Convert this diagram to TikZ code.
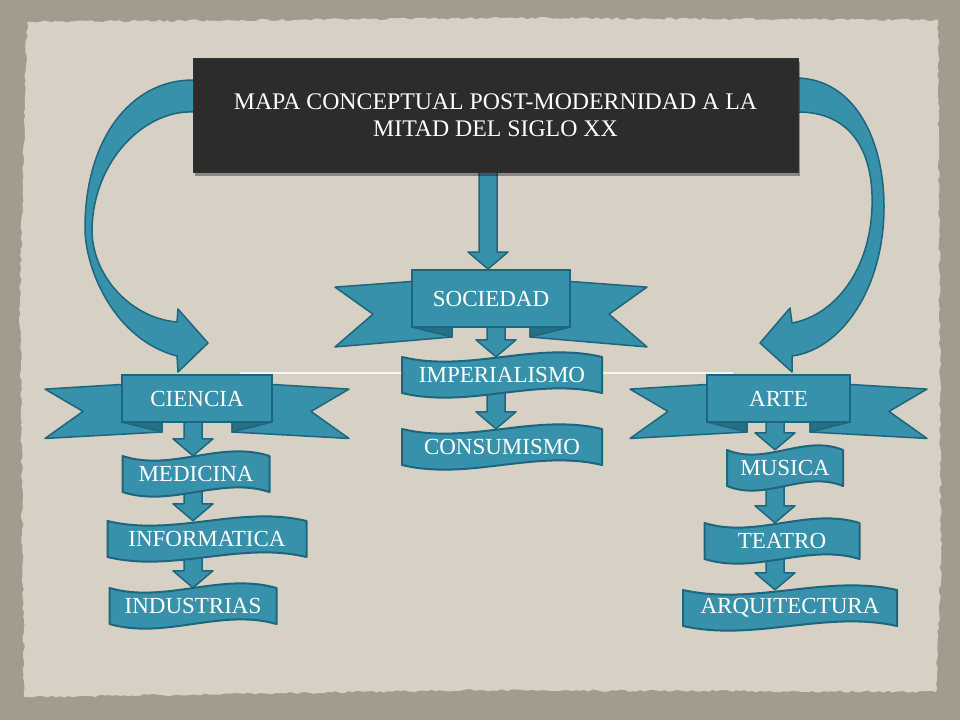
\documentclass[tikz,border=0pt]{standalone}
\usepackage{fontspec}
\setmainfont{Liberation Serif}
\usetikzlibrary{calc,shadows,decorations.pathmorphing}

\definecolor{ribbon}{RGB}{56,145,171}
\definecolor{ribbonedge}{RGB}{30,102,124}
\definecolor{ribbondark}{RGB}{36,112,135}
\definecolor{paperbg}{RGB}{215,208,196}
\definecolor{boardbg}{RGB}{162,155,142}
\definecolor{slate}{RGB}{44,44,44}

\pgfdeclarelayer{background}
\pgfdeclarelayer{behind}
\pgfsetlayers{background,behind,main}

% banner with two swallow tails: name, x, y, half width, half height, text
\newcommand\banner[6]{%
  \begin{scope}[shift={(#2,#3)}]
    \foreach \s in {1,-1} {
      \filldraw[ribbontail, xscale=\s] (-#4+20,-0.65*#5) -- (-#4-77,-0.4*#5) -- (-#4-39,0.55*#5)
        -- (-#4-77,1.7*#5) -- (-#4+40,#5+10) -- (-#4+40,0) -- cycle;
      \filldraw[ribbonfold, xscale=\s] (-#4,#5) -- (-#4+40,#5+10) -- (-#4+40,#5) -- cycle;
    }
  \end{scope}
  \node[bannerbox, minimum width=2*#4, minimum height=2*#5] (#1) at (#2,#3) {#6};
}

% wavy box: name, x, y, width, text
\newcommand\wavebox[5]{%
  \filldraw[wavebg, shift={(#2,#3)}] (-#4/2,-18) .. controls (-#4/6,-2) and (#4/6,-34) .. (#4/2,-18)
    -- (#4/2,18) .. controls (#4/6,2) and (-#4/6,34) .. (-#4/2,18) -- cycle;
  \node[wavetext, minimum width=#4] (#1) at (#2,#3) {#5};
}

% block arrow straight down: from, to, column
\newcommand\blockarrow[3]{%
  \filldraw[bigarrow] ($(#1.south -| #3)+(-9,-2)$) -- ($(#2.north -| #3)+(-9,-17)$)
    -- ($(#2.north -| #3)+(-20,-17)$) -- (#2.north -| #3) -- ($(#2.north -| #3)+(20,-17)$)
    -- ($(#2.north -| #3)+(9,-17)$) -- ($(#1.south -| #3)+(9,-2)$) -- cycle;
}

\begin{document}
\begin{tikzpicture}
    [x=1pt,y=-1pt,
     ribbontail/.style={fill=ribbon, draw=ribbonedge, line width=1.5pt, line join=round},
     ribbonfold/.style={fill=ribbondark, draw=ribbonedge, line width=1.5pt, line join=round},
     bannerbox/.style={fill=ribbon, draw=ribbonedge, line width=2pt, text=white, inner sep=0pt,
       font=\fontsize{23}{27}\selectfont},
     wavebg/.style={fill=ribbon, draw=ribbonedge, line width=2pt, line join=round},
     wavetext/.style={text=white, inner sep=0pt, minimum height=36pt, font=\fontsize{23}{27}\selectfont},
     bigarrow/.style={fill=ribbon, draw=ribbonedge, line width=1.5pt, line join=round},
     curvearrow/.style={fill=ribbon, draw=ribbonedge, line width=1.5pt, line join=round},
     titlebox/.style={fill=slate, draw=black!80, line width=1pt, text=white, align=center,
       minimum width=605pt, minimum height=114pt, font=\fontsize{23.8}{27}\selectfont,
       general shadow={fill=black, opacity=.35, shadow xshift=2pt, shadow yshift=-4pt}}]
  \useasboundingbox (0,0) rectangle (960,720);
  \pgfmathsetseed{7}

  \begin{pgfonlayer}{background}
    \fill[boardbg] (0,0) rectangle (960,720);
    \fill[paperbg, decorate, decoration={random steps, segment length=4pt, amplitude=1.2pt}]
      (27,22) -- (500,18) -- (938,20) -- (941,560) -- (936,692) -- (480,690) -- (24,697) -- (20,300) -- cycle;
  \end{pgfonlayer}

  \coordinate (colT) at (488,0);
  \coordinate (colL) at (193,0);
  \coordinate (colC) at (496,0);
  \coordinate (colR) at (775,0);

  % thin rule across the sheet
  \draw[white!80!paperbg, line width=1.2pt] (240,373) -- (733,373);

  % curved arrows from the title
  \filldraw[curvearrow] (205,80) -- (193,80) .. controls (130,80) and (85,140) .. (85,228)
    .. controls (85,270) and (115,340) .. (177,356) -- (178,372) -- (208,343) -- (178,309) -- (177,322)
    .. controls (130,318) and (92,275) .. (92,230) .. controls (93,160) and (145,110) .. (193,112)
    -- (205,112) -- cycle;
  \filldraw[curvearrow] (786,78) -- (798,78) .. controls (855,80) and (884,140) .. (884,207)
    .. controls (884,290) and (840,350) .. (792,356) -- (792,372) -- (760,343) -- (790,308) -- (792,323)
    .. controls (835,315) and (870,270) .. (872,207) .. controls (874,150) and (850,112) .. (798,112)
    -- (786,112) -- cycle;

  \node[titlebox] (title) at (495.5,115) {MAPA CONCEPTUAL POST-MODERNIDAD A LA\\MITAD DEL SIGLO XX};

  \banner{soc}{491}{298.5}{79}{28.5}{SOCIEDAD}
  \banner{cie}{197}{398.5}{75}{23.5}{CIENCIA}
  \banner{art}{778.5}{398.5}{71.5}{23.5}{ARTE}

  \wavebox{imp}{502}{375}{200}{IMPERIALISMO}
  \wavebox{con}{502}{447}{200}{CONSUMISMO}
  \wavebox{med}{196}{474}{147}{MEDICINA}
  \wavebox{inf}{207}{539}{199}{INFORMATICA}
  \wavebox{ind}{193}{606}{167}{INDUSTRIAS}
  \wavebox{mus}{785}{468}{116}{MUSICA}
  \wavebox{tea}{782}{541}{155}{TEATRO}
  \wavebox{arq}{790}{608}{214}{ARQUITECTURA}

  \begin{pgfonlayer}{behind}
    \blockarrow{title}{soc}{colT}
    \foreach \from/\to/\col in {soc/imp/colC, imp/con/colC, cie/med/colL, med/inf/colL,
        inf/ind/colL, art/mus/colR, mus/tea/colR, tea/arq/colR}
      \blockarrow{\from}{\to}{\col};
  \end{pgfonlayer}
\end{tikzpicture}
\end{document}
